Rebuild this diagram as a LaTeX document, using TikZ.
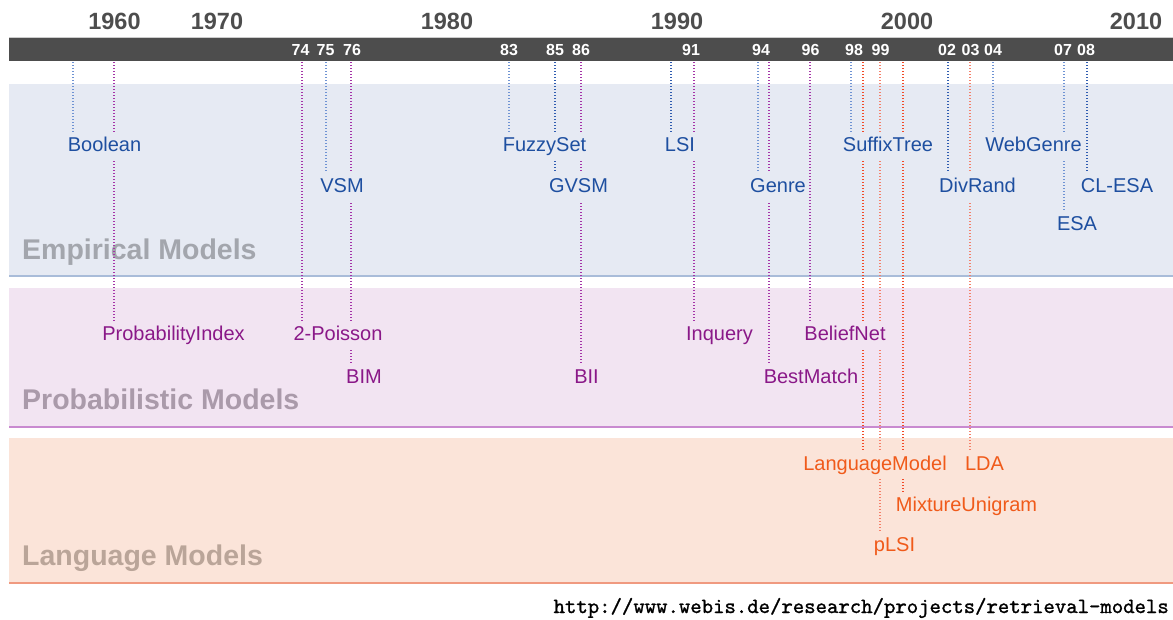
\documentclass[tikz,border=0pt]{standalone}
\usepackage{fontspec}
\setmainfont{Liberation Sans}
\font\urlfnt="[lmmono10-regular.otf]:embolden=1.2" at 21.7pt
\definecolor{empbg}{HTML}{E6EAF3}
\definecolor{empln}{HTML}{A9BCD9}
\definecolor{probg}{HTML}{F2E4F2}
\definecolor{proln}{HTML}{C98AD0}
\definecolor{lanbg}{HTML}{FBE4D9}
\definecolor{lanln}{HTML}{F09A80}
\definecolor{empti}{HTML}{A3A6AD}
\definecolor{proti}{HTML}{AA9AAA}
\definecolor{lanti}{HTML}{BAA599}
\definecolor{bartx}{HTML}{4D4D4D}
\definecolor{bluetx}{HTML}{1E4FA0}
\definecolor{purptx}{HTML}{8A1888}
\definecolor{orgtx}{HTML}{F05A1A}
\definecolor{blueL}{HTML}{6F93D3}
\definecolor{blueD}{HTML}{2F5CB0}
\definecolor{purpL}{HTML}{A535A8}
\definecolor{redA}{HTML}{F24A28}
\definecolor{redB}{HTML}{F4806A}
\tikzset{
  lab/.style={anchor=base, inner xsep=1pt, inner ysep=5pt, text height=14.4pt, text depth=4.2pt, font=\fontsize{20}{24}\selectfont},
  emp/.style={lab, text=bluetx, fill=empbg},
  pro/.style={lab, text=purptx, fill=probg},
  lan/.style={lab, text=orgtx, fill=lanbg},
  conn/.style={line width=1.1pt, dash pattern=on 1.1pt off 1.9pt},
  cb/.style={conn, draw=blueL},
  cbd/.style={conn, draw=blueD},
  cp/.style={conn, draw=purpL},
  cr/.style={conn, draw=redA},
  crl/.style={conn, draw=redB, line width=1.5pt},
  year/.style={anchor=base, inner sep=0pt, text=bartx, font=\fontsize{23.5}{26}\selectfont\bfseries},
  tick/.style={anchor=base, inner sep=0pt, text=white, font=\fontsize{16}{18}\selectfont\bfseries},
  title/.style={anchor=base west, inner sep=0pt, font=\fontsize{28.5}{32}\selectfont\bfseries}
}
\begin{document}
\begin{tikzpicture}[x=1pt, y=-1pt]
\useasboundingbox (0,0) rectangle (1173,619);
% bands
\fill[empbg] (9,84) rectangle (1173,276);
\draw[empln, line width=1.2pt] (9,276) -- (1173,276);
\fill[probg] (9,288) rectangle (1173,427);
\draw[proln, line width=1.2pt] (9,427) -- (1173,427);
\fill[lanbg] (9,438) rectangle (1173,583);
\draw[lanln, line width=1.2pt] (9,583) -- (1173,583);
% titles
\node[title, text=empti] (tEmp) at (22,259) {Empirical Models};
\node[title, text=proti] (tPro) at (22,409) {Probabilistic Models};
\node[title, text=lanti] (tLan) at (22,565) {Language Models};
% bar
\fill[bartx] (9,38) rectangle (1173,61);
\draw[black!20, line width=0.5pt] (9,37.5) -- (1173,37.5);
% years
\node[year] (y1960) at (114.5,29) {1960};
\node[year] (y1970) at (217,29) {1970};
\node[year] (y1980) at (447,29) {1980};
\node[year] (y1990) at (677,29) {1990};
\node[year] (y2000) at (907,29) {2000};
\node[year] (y2010) at (1136,29) {2010};
% ticks in bar
\node[tick] (k74) at (300.5,55) {74};
\node[tick] (k75) at (325.5,55) {75};
\node[tick] (k76) at (352,55) {76};
\node[tick] (k83) at (509,55) {83};
\node[tick] (k85) at (555,55) {85};
\node[tick] (k86) at (581,55) {86};
\node[tick] (k91) at (691,55) {91};
\node[tick] (k94) at (761,55) {94};
\node[tick] (k96) at (810.5,55) {96};
\node[tick] (k98) at (854,55) {98};
\node[tick] (k99) at (880.5,55) {99};
\node[tick] (k02) at (947,55) {02};
\node[tick] (k03) at (970.5,55) {03};
\node[tick] (k04) at (993,55) {04};
\node[tick] (k07) at (1063,55) {07};
\node[tick] (k08) at (1086,55) {08};
% line start points under the bar
\foreach \x in {73,114,302,326,351,509,555,581,671,694,758,769,810,851,863,880,903,948,970,993,1064,1087}
  {\coordinate (c\x) at (\x,62);}
% label anchors (invisible pass)
\path
  (104.5,151) node[emp, opacity=0] (boolean) {Boolean}
  (342,192) node[emp, opacity=0] (vsm) {VSM}
  (544.5,151) node[emp, opacity=0] (fuzzy) {FuzzySet}
  (578.5,192) node[emp, opacity=0] (gvsm) {GVSM}
  (680,151) node[emp, opacity=0] (lsi) {LSI}
  (778,192) node[emp, opacity=0] (genre) {Genre}
  (888,151) node[emp, opacity=0] (suffix) {SuffixTree}
  (977.5,192) node[emp, opacity=0] (divrand) {DivRand}
  (1033.5,151) node[emp, opacity=0] (webgenre) {WebGenre}
  (1117,192) node[emp, opacity=0] (clesa) {CL-ESA}
  (1077,230) node[emp, opacity=0] (esa) {ESA}
  (173.5,340) node[pro, opacity=0] (probidx) {ProbabilityIndex}
  (338,340) node[pro, opacity=0] (poisson) {2-Poisson}
  (364,383) node[pro, opacity=0] (bim) {BIM}
  (586.5,383) node[pro, opacity=0] (bii) {BII}
  (719.5,340) node[pro, opacity=0] (inquery) {Inquery}
  (845,340) node[pro, opacity=0] (belief) {BeliefNet}
  (811,383) node[pro, opacity=0] (bestmatch) {BestMatch}
  (875,470) node[lan, opacity=0] (langmodel) {LanguageModel}
  (984.5,470) node[lan, opacity=0] (lda) {LDA}
  (966.5,511) node[lan, opacity=0] (mixture) {MixtureUnigram}
  (894.5,551) node[lan, opacity=0] (plsi) {pLSI};
% connectors
\draw[cb]  (c73)   -- (boolean.north -| c73);
\draw[cp]  (c114)  -- (probidx.north -| c114);
\draw[cp]  (c302)  -- (poisson.north -| c302);
\draw[cb]  (c326)  -- (vsm.north -| c326);
\draw[cp]  (c351)  -- (bim.north -| c351);
\draw[cb]  (c509)  -- (fuzzy.north -| c509);
\draw[cbd] (c555)  -- (gvsm.north -| c555);
\draw[cp]  (c581)  -- (bii.north -| c581);
\draw[cbd] (c671)  -- (lsi.north -| c671);
\draw[cp]  (c694)  -- (inquery.north -| c694);
\draw[cb]  (c758)  -- (genre.north -| c758);
\draw[cp]  (c769)  -- (bestmatch.north -| c769);
\draw[cp]  (c810)  -- (belief.north -| c810);
\draw[cb]  (c851)  -- (suffix.north -| c851);
\draw[cr]  (c863)  -- (langmodel.north -| c863);
\draw[crl] (c880)  -- (plsi.north -| c880);
\draw[cr]  (c903)  -- (mixture.north -| c903);
\draw[cbd] (c948)  -- (divrand.north -| c948);
\draw[crl] (c970)  -- (lda.north -| c970);
\draw[cb]  (c993)  -- (webgenre.north -| c993);
\draw[cb]  (c1064) -- (esa.north -| c1064);
\draw[cbd] (c1087) -- (clesa.north -| c1087);
% visible labels (mask the lines passing behind)
\node[emp] at (boolean.base) {Boolean};
\node[emp] at (vsm.base) {VSM};
\node[emp] at (fuzzy.base) {FuzzySet};
\node[emp] at (gvsm.base) {GVSM};
\node[emp] at (lsi.base) {LSI};
\node[emp] at (genre.base) {Genre};
\node[emp] at (suffix.base) {SuffixTree};
\node[emp] at (divrand.base) {DivRand};
\node[emp] at (webgenre.base) {WebGenre};
\node[emp] at (clesa.base) {CL-ESA};
\node[emp] at (esa.base) {ESA};
\node[pro] at (probidx.base) {ProbabilityIndex};
\node[pro] at (poisson.base) {2-Poisson};
\node[pro] at (bim.base) {BIM};
\node[pro] at (bii.base) {BII};
\node[pro] at (inquery.base) {Inquery};
\node[pro] at (belief.base) {BeliefNet};
\node[pro] at (bestmatch.base) {BestMatch};
\node[lan] at (langmodel.base) {LanguageModel};
\node[lan] at (lda.base) {LDA};
\node[lan] at (mixture.base) {MixtureUnigram};
\node[lan] at (plsi.base) {pLSI};
% url
\node[anchor=base east, inner sep=0pt, font=\urlfnt] (url) at (1169,613) {http://www.webis.de/research/projects/retrieval-models};
\end{tikzpicture}
\end{document}
